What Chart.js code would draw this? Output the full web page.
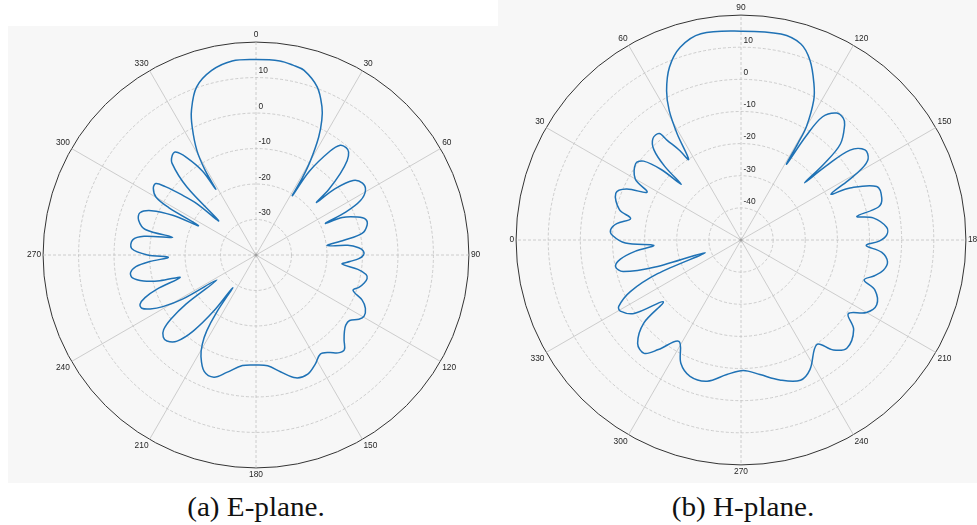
<!DOCTYPE html>
<html>
<head>
<meta charset="utf-8">
<script src="https://cdn.jsdelivr.net/npm/chart.js@4.4.1/dist/chart.umd.min.js"></script>
<style>
  html, body { margin: 0; padding: 0; background: #fff; }
  body { width: 977px; height: 525px; position: relative; overflow: hidden; }
  .panel { position: absolute; background: #f7f7f7; }
  #panelE { left: 8px; top: 26px; width: 490px; height: 457px; }
  #panelH { left: 498px; top: 0; width: 479px; height: 483px; }
  canvas { position: absolute; }
  #eplane { left: 6px; top: 30px; }
  #hplane { left: 486px; top: 3px; }
  .caption { position: absolute; top: 492px; width: 300px; line-height: 30px; text-align: center;
    font-family: 'Liberation Serif', 'DejaVu Serif', serif; font-size: 27px; color: #111;
    transform: scaleX(1.08); transform-origin: center; }
</style>
</head>
<body>
<div class="panel" id="panelE"></div>
<div class="panel" id="panelH"></div>
<canvas id="eplane" width="500" height="450"></canvas>
<canvas id="hplane" width="510" height="474"></canvas>
<div class="caption" style="left:106px">(a) E-plane.</div>
<div class="caption" style="left:593px">(b) H-plane.</div>
<script>
// gain (dB), angles in degrees as labelled on each plot
const ePlaneAngles = [0, 7, 11, 14.5, 20, 24, 26, 28, 30, 31, 31.5,
  32.5, 35.5, 37.5, 40, 42, 44, 46, 48, 49,
  50, 52.5, 56, 59.5, 62.5, 64.5, 65.5,
  66.5, 69.5, 72, 75, 78.5, 80.5, 82.5,
  84, 86, 88, 90, 92, 94, 96,
  98, 100, 102, 104.5, 107.5, 110,
  113, 116, 119.5, 122, 125,
  128, 131, 134, 137, 140, 143, 147, 151.5, 156.5, 162, 168, 174, 180,
  187, 194, 199, 204, 208.5, 211, 213, 214.5, 215.5,
  217, 219.5, 222.5, 226, 228.5, 231, 233, 235, 237.5,
  239, 241, 243, 245, 247, 249, 251, 253.5,
  255, 257, 259.5, 262, 264.5, 266.5, 268.5,
  270, 273, 277, 279.5, 282,
  283, 286.5, 290, 293, 295.5, 297,
  298.5, 300, 303, 305.5, 307, 309, 311, 312.5,
  314.5, 317.5, 320, 322, 324.5, 327.5, 328.5,
  329, 330.5, 333.5, 336, 340.5, 346.5, 353];
const ePlaneGain = [15.1, 15.1, 14.5, 13.8, 10.4, 5.7, 2.3, -2.4, -9.3, -14.5, -20.4,
  -12, -4, -1, -0.5, -1, -3, -7, -12.5, -17.4,
  -11, -5.5, -3.8, -4.2, -6.8, -12, -18.5,
  -13.5, -9.5, -7.5, -7.6, -9.5, -14.9, -19.8,
  -14, -11, -9.7, -9.7, -11, -13.5, -15.6,
  -11, -8.5, -8.0, -8.5, -9.6, -10.9,
  -7.5, -5.7, -5.0, -5.8, -7.8,
  -7.9, -7, -5.5, -3.5, -4.0, -5.6, -6.7, -5.0, -3.4, -3.6, -6.3, -8.6, -9.0,
  -8.6, -5.9, -3.6, -4.1, -7.5, -10.6, -14.5, -20.4, -28.7,
  -20.2, -12.3, -7.1, -5.1, -5.1, -6.5, -10, -16, -26.9,
  -16, -10, -6.5, -4.5, -4.5, -6.5, -10.5, -17.7,
  -12, -7.5, -4.6, -4.3, -6, -10, -15.3,
  -9.5, -4.9, -5.0, -8, -16,
  -8, -5.5, -5.2, -8, -14, -21.8,
  -12, -7.5, -5.5, -5.3, -8, -13, -18, -25.7,
  -12.7, -5.0, -3.3, -3.2, -6.2, -12, -18.3,
  -12.2, -6.2, 0.3, 4.7, 10.2, 13.5, 15.1];

const hPlaneAngles = [79, 90, 101, 107, 111, 115, 117.5, 120, 120.5, 121,
  122, 123.5, 127, 130, 132, 136, 137.5, 138,
  139, 140.5, 144, 147.5, 149.5, 151, 153,
  154.5, 158.5, 163.5, 166.5, 168.5,
  170.5, 175, 178, 180.5, 182.5,
  185, 188.5, 192, 195, 198,
  200.5, 205.5, 210, 214.5,
  218.5, 225.5, 230, 234,
  242, 247, 254.5, 262, 269, 276, 283.5, 290.5, 296, 301.5,
  307, 310.5, 315, 319.5, 321.5,
  325.5, 329.5, 331.5, 335, 338, 340.5,
  342.5, 345, 348, 351, 354, 356.5,
  358.5, 2, 4.5, 7.5, 11,
  14, 20.5, 24, 27,
  30, 36, 39, 41.5, 43,
  44, 46, 49, 52.5, 53.5, 55.5, 57,
  59, 61, 63.5, 67.5, 72.5];
const hPlaneGain = [15.4, 15.0, 15.3, 13.8, 9.9, 3.7, -1.0, -9.3, -15, -22.5,
  -12, -4, -0.5, -0.5, -1.8, -7, -15, -23.4,
  -15, -6, -2.3, -3.1, -6.5, -12, -18.6,
  -12.4, -4.6, -4.3, -6.0, -13.2,
  -8.3, -4.5, -4.6, -7, -11,
  -6, -3.9, -4.7, -7, -9.7,
  -5.5, -3.2, -4.9, -9.5,
  -5.2, -2.9, -5.3, -9.8,
  -4.3, -2.6, -4.8, -7.7, -9.4, -7.9, -4.8, -4.7, -7.3, -13.0,
  -7.3, -3.6, -4.5, -10.2, -19.1,
  -9.6, -6.4, -6.7, -12, -22, -38.2,
  -22, -12, -10.1, -12, -17, -22.8,
  -14, -10, -9.3, -11, -15.0,
  -11, -8.4, -11, -17.2,
  -12, -9.5, -11, -17, -24.6,
  -17, -11, -8.2, -8.2, -11.4, -16, -20.1,
  -11.4, -3.9, 1.9, 8.2, 12.9];

const angleTicks = [0, 30, 60, 90, 120, 150, 180, 210, 240, 270, 300, 330];
const ePlaneRings = [-30, -20, -10, 0, 10];
const hPlaneRings = [-40, -30, -20, -10, 0, 10];

const STEPS = 720; // half-degree categories
const angleLabels = Array.from({ length: STEPS }, (_, i) => i / 2);

function toSeries(angles, gains) {
  const out = new Array(STEPS).fill(null);
  angles.forEach((a, i) => {
    out[Math.round((((a % 360) + 360) % 360) * 2) % STEPS] = gains[i];
  });
  return out;
}

const labelFont = "'Liberation Sans Narrow', 'Arial Narrow', 'Liberation Sans', Arial, sans-serif";

const ringLabels = {
  id: 'ringLabels',
  beforeDatasetsDraw(chart, args, opts) {
    const s = chart.scales.r;
    const ctx = chart.ctx;
    ctx.save();
    ctx.fillStyle = '#262626';
    ctx.font = '8.4px ' + labelFont;
    ctx.textAlign = 'left';
    ctx.textBaseline = 'middle';
    opts.values.forEach(v => {
      const d = s.getDistanceFromCenterForValue(v);
      ctx.fillText(String(v), s.xCenter + 2.5, s.yCenter - d - 6.5);
    });
    ctx.fillStyle = '#a0a0a0';
    ctx.beginPath();
    ctx.arc(s.xCenter, s.yCenter, 1.6, 0, Math.PI * 2);
    ctx.fill();
    ctx.restore();
  }
};

function makeChart(id, angles, gains, rMin, rings, startAngle) {
  const rMax = 20;
  return new Chart(document.getElementById(id), {
    type: 'radar',
    data: {
      labels: angleLabels,
      datasets: [{
        data: toSeries(angles, gains),
        borderColor: '#1f72b5',
        borderWidth: 1.5,
        pointRadius: 0,
        pointHoverRadius: 0,
        fill: false,
        tension: 0.35,
        spanGaps: true
      }]
    },
    options: {
      responsive: false,
      animation: false,
      events: [],
      layout: { padding: 0 },
      plugins: {
        legend: { display: false },
        tooltip: { enabled: false },
        ringLabels: { values: rings }
      },
      scales: {
        r: {
          min: rMin,
          max: rMax,
          startAngle: startAngle,
          ticks: { display: false, stepSize: 10 },
          grid: {
            circular: true,
            color: c => c.tick.value === rMax ? '#333333' : '#c2c2c2',
            lineWidth: c => c.tick.value === rMax ? 1 : 0.8
          },
          border: { dash: c => c.tick.value === rMax ? [] : [3, 2] },
          angleLines: {
            color: '#c2c2c2',
            lineWidth: c => c.index % 60 === 0 ? 0.8 : 0,
            borderDash: c => c.index % 180 === 0 ? [3, 2] : []
          },
          pointLabels: {
            padding: 2,
            color: '#262626',
            font: { family: labelFont, size: 8.4 },
            callback: (l, i) => (i % 60 === 0 && angleTicks.includes(l)) ? String(l) : ''
          }
        }
      }
    },
    plugins: [ringLabels]
  });
}

makeChart('eplane', ePlaneAngles, ePlaneGain, -40, ePlaneRings, 0);
makeChart('hplane', hPlaneAngles, hPlaneGain, -50, hPlaneRings, 270);
</script>
</body>
</html>
